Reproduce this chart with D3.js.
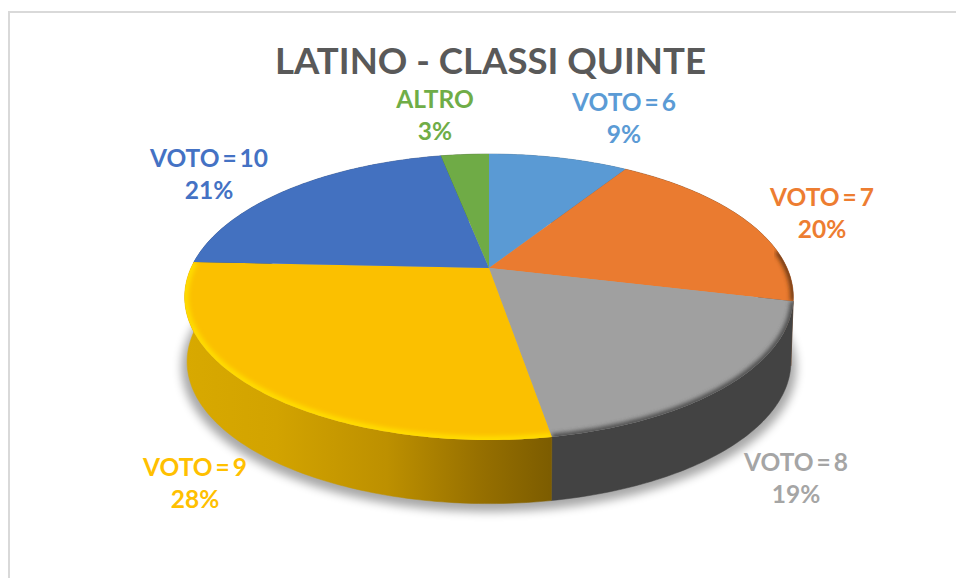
<!DOCTYPE html>
<html><head><meta charset="utf-8">
<script src="https://cdn.jsdelivr.net/npm/d3@7"></script>
<style>html,body{margin:0;padding:0;background:#fff}svg{display:block}text{font-family:Lato,"Open Sans",sans-serif;font-weight:700}</style>
</head><body><svg id="c" width="956" height="578"></svg>
<script>
const title = "LATINO - CLASSI QUINTE";
const categories = ["VOTO = 6","VOTO = 7","VOTO = 8","VOTO = 9","VOTO = 10","ALTRO"];
const values = [9, 19.7, 18.6, 28.4, 21.2, 3.1];
const labelColors = ["#5b9bd5","#ed7d31","#a5a5a5","#ffc000","#4472c4","#70ad47"];
const faceColors = ["#5a9ad4","#ea7b30","#a0a0a0","#fbc000","#4371c0","#6fab46"];
const rimColors = ["#5a9ad4","#6e3a14","#4c4c4c","#ffdc00","#4371c0","#6fab46"];

// layout, separate from the data
const W = 956, H = 578;
const cx = 489, cy = 268, a = 298, b = 137.1, k = -0.2028, depth = 65;
const labelPos = [[624,111],[822,206],[796,471],[195,476],[209,167],[435,108]];

const svg = d3.select("#c");
const defs = svg.append("defs");
defs.append("filter").attr("id","sh").attr("x","-20%").attr("y","-20%").attr("width","140%").attr("height","140%")
  .append("feGaussianBlur").attr("stdDeviation",5);
defs.append("filter").attr("id","bl").attr("x","-20%").attr("y","-20%").attr("width","140%").attr("height","140%")
  .append("feGaussianBlur").attr("stdDeviation",2);
const g1 = defs.append("linearGradient").attr("id","yw").attr("gradientUnits","userSpaceOnUse")
  .attr("x1",185).attr("x2",552).attr("y1",0).attr("y2",0);
[[0,"#d8a900"],[.25,"#d2a300"],[.55,"#bd9000"],[.8,"#977000"],[1,"#7c5c00"]].forEach(s=>g1.append("stop").attr("offset",s[0]).attr("stop-color",s[1]));
const wallFill = ["#3f6c94","#7d431b","#434343","url(#yw)","#2c4a80","#456b2c"];

svg.append("rect").attr("x",9).attr("y",12).attr("width",W+20).attr("height",H+20)
  .attr("fill","#fff").attr("stroke","#d9d9d9").attr("stroke-width",2);

// perspective projection of the disc
const xS = d3.scaleLinear().domain([-1,1]).range([cx-a,cx+a]);
const yS = d3.scaleLinear().domain([-1,1]).range([cy-b,cy+b]);
const proj = (t, dz=0, s=1) => {
  const u = Math.sin(t), v = -Math.cos(t), w = 1 + k*v;
  return [xS(u*s/w), yS(v*s/w) + dz];
};
const line = d3.line();
const arcPts = (t0,t1,dz=0,s=1) => {
  const n = Math.max(2, Math.ceil((t1-t0)*60));
  return d3.range(n+1).map(i => proj(t0+(t1-t0)*i/n, dz, s));
};
const arcs = d3.pie().sort(null).value(d=>d)(values);

// cast shadow
svg.append("path").attr("d", line(arcPts(0,2*Math.PI,depth+5,1.01))+"Z")
  .attr("fill","#000").attr("opacity",.34).attr("filter","url(#sh)");

// side wall
svg.append("g").selectAll("path").data(arcs).join("path")
  .attr("d", d => line(arcPts(d.startAngle,d.endAngle).concat(arcPts(d.startAngle,d.endAngle,depth,.992).reverse()))+"Z")
  .attr("fill",(d,i)=>wallFill[i]).attr("stroke",(d,i)=>wallFill[i]).attr("stroke-width",.5);

// top face + bevel on the front-facing part of the rim only
const face = d => line([[xS(0),yS(0)]].concat(arcPts(d.startAngle,d.endAngle)))+"Z";
arcs.forEach((d,i)=>defs.append("clipPath").attr("id","cp"+i).append("path").attr("d",face(d)));
svg.append("g").selectAll("path").data(arcs).join("path")
  .attr("d",face).attr("fill",(d,i)=>faceColors[i]);
const front0 = Math.PI*0.46, front1 = Math.PI*1.54;
const bevel = arcs.filter(d => d.endAngle>front0 && d.startAngle<front1);
svg.append("g").selectAll("g").data(bevel).join("g")
  .attr("clip-path",d=>`url(#cp${d.index===undefined?arcs.indexOf(d):arcs.indexOf(d)})`)
  .append("path").attr("d",d=>line(arcPts(Math.max(d.startAngle,front0),Math.min(d.endAngle,front1))))
  .attr("fill","none").attr("stroke",d=>rimColors[arcs.indexOf(d)]).attr("stroke-width",d=>arcs.indexOf(d)===3?8:6)
  .attr("filter","url(#bl)");

// texts
svg.append("text").attr("x",490.5).attr("y",74).attr("text-anchor","middle")
  .attr("font-size",36.6).attr("fill","#595959").text(title);
const lab = svg.append("g").selectAll("text").data(arcs).join("text")
  .attr("text-anchor","middle").attr("font-size",24.5).attr("word-spacing",-3)
  .attr("fill",(d,i)=>labelColors[i]);
lab.append("tspan").attr("x",(d,i)=>labelPos[i][0]).attr("y",(d,i)=>labelPos[i][1]).text((d,i)=>categories[i]);
lab.append("tspan").attr("x",(d,i)=>labelPos[i][0]).attr("y",(d,i)=>labelPos[i][1]+32)
  .text(d=>Math.round(d.value)+"%");
</script></body></html>
